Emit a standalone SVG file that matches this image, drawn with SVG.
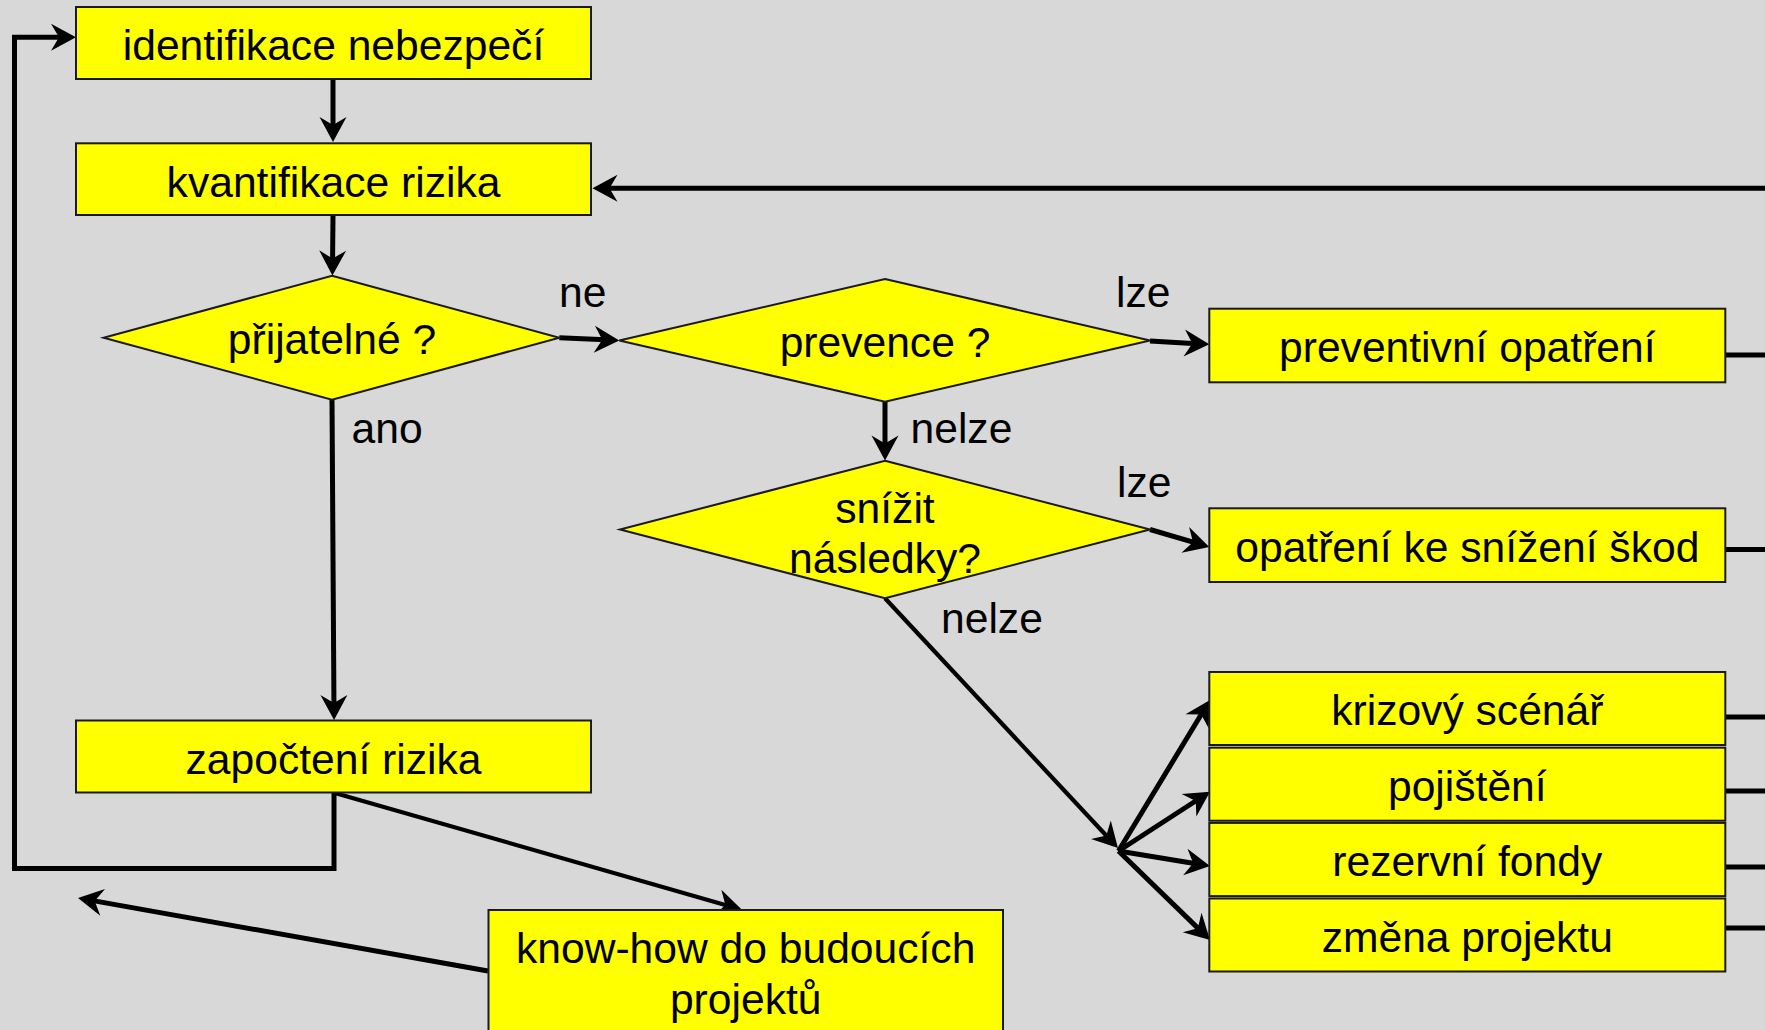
<svg xmlns="http://www.w3.org/2000/svg" width="1765" height="1030" viewBox="0 0 1765 1030">
<style>
.box{fill:#ffff00;stroke:#1a1a1a;stroke-width:2}
.t{font-family:"Liberation Sans",Arial,sans-serif;font-size:42.6px;fill:#000;text-anchor:middle}
.lbl{font-family:"Liberation Sans",Arial,sans-serif;font-size:42.6px;fill:#000}
.c{fill:none;stroke:#000;stroke-width:5}
.a{fill:none;stroke:#000;stroke-width:5;marker-end:url(#ah)}
</style>
<defs>
<marker id="ah" markerUnits="userSpaceOnUse" markerWidth="40" markerHeight="40" viewBox="-20 -20 40 40" refX="0" refY="0" orient="auto" overflow="visible">
<path d="M8,0 L-17,-13.5 L-9,0 L-17,13.5 Z" fill="#000"/>
</marker>
</defs>
<rect width="1765" height="1030" fill="#d8d8d8"/>
<g id="connectors">
<line class="a" x1="333" y1="79" x2="333" y2="134"/>
<line class="a" x1="333" y1="215" x2="332.5" y2="267.5"/>
<line class="a" x1="559.3" y1="337.7" x2="611.3" y2="340.1"/>
<line class="a" x1="1150" y1="341" x2="1201.3" y2="343.9"/>
<line class="a" x1="885" y1="401.7" x2="885" y2="452.5"/>
<line class="a" x1="1150" y1="529.5" x2="1201.6" y2="544.7"/>
<line class="a" style="stroke-width:4.2" x1="885" y1="598.3" x2="1112.5" y2="842.2"/>
<line class="a" x1="1118.5" y1="851" x2="1205.9" y2="706.8"/>
<line class="a" x1="1118.5" y1="851" x2="1203.3" y2="796"/>
<line class="a" x1="1118.5" y1="851" x2="1202.1" y2="864.7"/>
<line class="a" x1="1118.5" y1="851" x2="1204.3" y2="934.4"/>
<line class="a" x1="1765" y1="188.3" x2="600.5" y2="188.3"/>
<line class="a" x1="332" y1="399.6" x2="334" y2="712"/>
<path class="a" d="M334,792.5 V868.5 H14.5 V37.3 H68"/>
<line class="a" style="stroke-width:4.2" x1="334" y1="792.7" x2="734" y2="907.4"/>
<line class="a" x1="488" y1="971" x2="85.9" y2="899.4"/>
<line class="c" x1="1725" y1="355" x2="1765" y2="355"/>
<line class="c" x1="1725" y1="549.5" x2="1765" y2="549.5"/>
<line class="c" x1="1725" y1="717" x2="1765" y2="717"/>
<line class="c" x1="1725" y1="791" x2="1765" y2="791"/>
<line class="c" x1="1725" y1="867" x2="1765" y2="867"/>
<line class="c" x1="1725" y1="928" x2="1765" y2="928"/>
<text class="lbl" x="559" y="307">ne</text>
<text class="lbl" x="1116" y="307">lze</text>
<text class="lbl" x="910.5" y="442.5">nelze</text>
<text class="lbl" x="351.5" y="442.5">ano</text>
<text class="lbl" x="1117" y="496.5">lze</text>
<text class="lbl" x="941" y="633">nelze</text>
</g>
<g id="identifikace">
<rect class="box" x="76" y="7" width="515" height="72"/>
<text class="t" x="333.5" y="60">identifikace nebezpečí</text>
</g>
<g id="kvantifikace">
<rect class="box" x="76" y="143.3" width="515" height="71.7"/>
<text class="t" x="333.5" y="196.5">kvantifikace rizika</text>
</g>
<g id="prijatelne">
<polygon class="box" points="332,275.8 559.3,337.7 332,399.6 103.6,337.7"/>
<text class="t" x="332" y="354">přijatelné ?</text>
</g>
<g id="prevence">
<polygon class="box" points="885,279 1150,340.5 885,401.7 619.3,340.5"/>
<text class="t" x="885" y="357">prevence ?</text>
</g>
<g id="snizit">
<polygon class="box" points="885,460.7 1150,529.5 885,598.3 620,529.5"/>
<text class="t" x="885" y="522.5">snížit</text>
<text class="t" x="885" y="572.5">následky?</text>
</g>
<g id="preventivni">
<rect class="box" x="1209.3" y="308.7" width="516" height="73.6"/>
<text class="t" x="1467.3" y="362">preventivní opatření</text>
</g>
<g id="opatreni">
<rect class="box" x="1209.3" y="508.3" width="516" height="73.7"/>
<text class="t" x="1467.3" y="562">opatření ke snížení škod</text>
</g>
<g id="krizovy">
<rect class="box" x="1209.3" y="672" width="516" height="73"/>
<text class="t" x="1467.3" y="725">krizový scénář</text>
</g>
<g id="pojisteni">
<rect class="box" x="1209.3" y="747.7" width="516" height="73"/>
<text class="t" x="1467.3" y="801">pojištění</text>
</g>
<g id="rezervni">
<rect class="box" x="1209.3" y="822.9" width="516" height="73.2"/>
<text class="t" x="1467.3" y="876">rezervní fondy</text>
</g>
<g id="zmena">
<rect class="box" x="1209.3" y="898.5" width="516" height="73"/>
<text class="t" x="1467.3" y="952">změna projektu</text>
</g>
<g id="zapocteni">
<rect class="box" x="76" y="720.5" width="515" height="72"/>
<text class="t" x="333.5" y="774">započtení rizika</text>
</g>
<g id="knowhow">
<rect class="box" x="488.5" y="910" width="514.5" height="140"/>
<text class="t" x="745.7" y="962.5">know-how do budoucích</text>
<text class="t" x="745.7" y="1013.5">projektů</text>
</g>
</svg>
